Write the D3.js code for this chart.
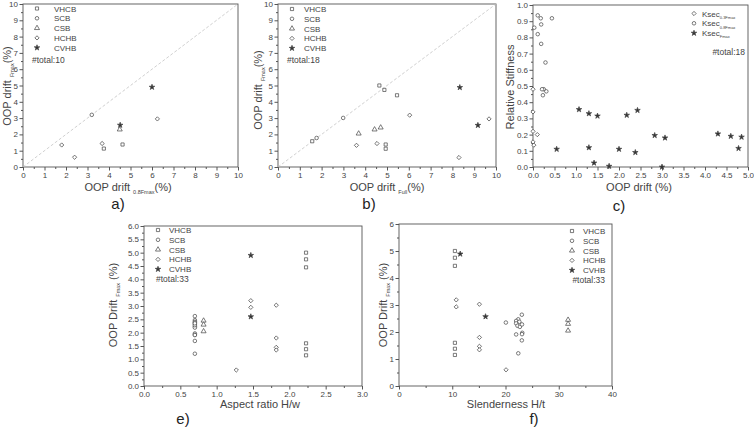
<!DOCTYPE html>
<html>
<head>
<meta charset="utf-8">
<script src="https://cdn.jsdelivr.net/npm/d3@7"></script>
<style>
  body { margin: 0; background: #fff; }
  text { font-family: Arial, "Liberation Sans", sans-serif; }
</style>
</head>
<body>
<svg id="chart" width="754" height="430"></svg>
<script>
/* ========================= DATA ======================== */
/* ======================================================= */

const seriesNames = ["VHCB", "SCB", "CSB", "HCHB", "CVHB"];
const stiffNames = ["0.3Fmax", "0.8Fmax", "Fmax"];

// a) OOP drift 0.8Fmax vs OOP drift Fmax
const aVHCB = [[3.76, 1.13], [4.63, 1.38]];
const aSCB  = [[3.2, 3.2]];
const aCSB  = [[4.5, 2.3]];
const aHCHB = [[1.8, 1.35], [2.4, 0.6], [3.68, 1.44], [6.25, 2.95]];
const aCVHB = [[4.52, 2.57], [6.0, 4.9]];

// b) OOP drift Full vs OOP drift Fmax
const bVHCB = [[1.57, 1.58], [4.65, 5.0], [4.88, 4.73], [5.46, 4.4], [4.94, 1.38], [4.94, 1.12]];
const bSCB  = [[1.77, 1.78], [2.99, 3.01]];
const bCSB  = [[3.7, 2.05], [4.43, 2.3], [4.71, 2.42]];
const bHCHB = [[3.6, 1.33], [4.54, 1.44], [6.04, 3.18], [8.3, 0.58], [9.68, 2.95]];
const bCVHB = [[8.34, 4.88], [9.17, 2.56]];

// c) relative stiffness vs OOP drift
const cK03 = [[0.0, 0.48], [0.0, 0.34], [0.0, 0.22], [0.1, 0.2], [0.0, 0.155], [0.02, 0.135]];
const cK08 = [[0.11, 0.936], [0.18, 0.918], [0.44, 0.918], [0.03, 0.86], [0.19, 0.88], [0.11, 0.82],
              [0.19, 0.76], [0.29, 0.645], [0.25, 0.48], [0.31, 0.467], [0.23, 0.443], [0.21, 0.48]];
const cKF   = [[0.55, 0.11], [1.07, 0.355], [1.3, 0.33], [1.3, 0.12], [1.42, 0.025], [1.5, 0.315],
              [1.77, 0.005], [2.0, 0.11], [2.18, 0.32], [2.38, 0.09], [2.43, 0.35], [2.83, 0.195],
              [3.0, 0.0], [3.07, 0.18], [4.3, 0.205], [4.6, 0.19], [4.78, 0.115], [4.85, 0.185]];

// e) aspect ratio vs OOP drift Fmax
const eVHCB = [[2.23, 5.0], [2.23, 4.75], [2.23, 4.45], [2.23, 1.6], [2.23, 1.38], [2.23, 1.15]];
const eSCB  = [[0.7, 2.62], [0.7, 2.47], [0.7, 2.41], [0.7, 2.38], [0.7, 2.32], [0.7, 2.23], [0.7, 2.19],
               [0.7, 2.28], [0.7, 1.97], [0.7, 1.92], [0.7, 1.91], [0.7, 1.69], [0.7, 1.21], [0.7, 2.35]];
const eCSB  = [[0.82, 2.45], [0.82, 2.3], [0.82, 2.05]];
const eHCHB = [[1.47, 3.2], [1.47, 2.95], [1.82, 3.03], [1.82, 1.8], [1.82, 1.45], [1.82, 1.35], [1.27, 0.6]];
const eCVHB = [[1.47, 4.9], [1.47, 2.6]];

// f) slenderness vs OOP drift Fmax
const fVHCB = [[10.5, 5.0], [10.5, 4.75], [10.5, 4.45], [10.5, 1.6], [10.5, 1.38], [10.5, 1.15]];
const fSCB  = [[23.07, 2.64], [22.4, 2.47], [22.0, 2.41], [22.6, 2.38], [22.0, 2.32], [22.25, 2.23],
               [22.7, 2.19], [23.1, 2.28], [23.15, 1.97], [23.1, 1.92], [22.0, 1.91], [23.07, 1.69],
               [22.4, 1.21], [20.07, 2.35]];
const fCSB  = [[31.75, 2.45], [31.75, 2.3], [31.75, 2.05]];
const fHCHB = [[10.75, 3.19], [10.75, 2.93], [15.1, 3.03], [15.1, 1.8], [15.1, 1.47], [15.1, 1.34], [20.1, 0.6]];
const fCVHB = [[11.5, 4.89], [16.25, 2.57]];

const totals = { a: 10, b: 18, c: 18, e: 33, f: 33 };

/* ======================= HELPERS ======================= */
/* ======================================================= */

const svg = d3.select("#chart");
const INK = "#444";

function translate(x, y) { return "translate(" + x + "," + y + ")"; }

const symbolDefs = {
    square:   { path: d3.symbol(d3.symbolSquare, 10)(),   rot: 0,  fill: "#fff" },
    circle:   { path: d3.symbol(d3.symbolCircle, 10)(),   rot: 0,  fill: "#fff" },
    triangle: { path: d3.symbol(d3.symbolTriangle, 11)(), rot: 0,  fill: "#fff" },
    diamond:  { path: d3.symbol(d3.symbolSquare, 9)(),    rot: 45, fill: "#fff" },
    star:     { path: d3.symbol(d3.symbolStar, 9.5)(),    rot: 0,  fill: "#333" }
};
const seriesSymbols = ["square", "circle", "triangle", "diamond", "star"];

function drawSymbol(g, type, px, py) {
    let s = symbolDefs[type];
    g.append("path")
     .attr("d", s.path)
     .attr("transform", translate(px, py) + (s.rot ? " rotate(" + s.rot + ")" : ""))
     .attr("fill", s.fill)
     .attr("stroke", "#444")
     .attr("stroke-width", 0.7);
}

// text made of plain and subscript parts
function richText(g, parts, size) {
    let t = g.append("text").attr("font-size", size).attr("fill", INK);
    let down = false;
    parts.forEach(p => {
        let sub = p[1];
        let ts = t.append("tspan").text(p[0]);
        if (sub) ts.attr("font-size", size * 0.5).attr("dy", down ? 0 : size * 0.28);
        else if (down) ts.attr("dy", -size * 0.28);
        down = sub;
    });
    return t;
}

function drawPanel(p) {
    let g = svg.append("g");
    let x = d3.scaleLinear().domain(p.xDomain).range([p.left, p.right]);
    let y = d3.scaleLinear().domain(p.yDomain).range([p.bottom, p.top]);

    let styleAxis = sel => {
        sel.select(".domain").remove();
        sel.selectAll("line").attr("stroke", "#555");
        sel.selectAll("text").attr("fill", INK).attr("font-size", 8)
           .attr("font-family", "Arial, 'Liberation Sans', sans-serif");
    };

    g.append("g").attr("transform", translate(0, p.bottom))
     .call(d3.axisBottom(x).tickValues(p.xMinor).tickSize(2).tickFormat("")).call(styleAxis);
    g.append("g").attr("transform", translate(p.left, 0))
     .call(d3.axisLeft(y).tickValues(p.yMinor).tickSize(2).tickFormat("")).call(styleAxis);
    g.append("g").attr("transform", translate(0, p.bottom))
     .call(d3.axisBottom(x).tickValues(p.xTicks).tickSize(3.5).tickPadding(1.5)
             .tickFormat(d3.format(p.xFmt))).call(styleAxis);
    g.append("g").attr("transform", translate(p.left, 0))
     .call(d3.axisLeft(y).tickValues(p.yTicks).tickSize(3.5).tickPadding(1.5)
             .tickFormat(d3.format(p.yFmt))).call(styleAxis);

    g.append("rect")
     .attr("x", p.left).attr("y", p.top)
     .attr("width", p.right - p.left).attr("height", p.bottom - p.top)
     .attr("fill", "none").attr("stroke", "#555").attr("stroke-width", 0.9);

    if (p.diagonal) {
        g.append("line")
         .attr("x1", x(0)).attr("y1", y(0)).attr("x2", x(10)).attr("y2", y(10))
         .attr("stroke", "#c4c4c4").attr("stroke-width", 0.8).attr("stroke-dasharray", "3,2");
    }

    p.series.forEach((pts, i) => {
        pts.forEach(d => drawSymbol(g, p.symbols[i], x(d[0]), y(d[1])));
    });

    // legend
    let lg = g.append("g");
    p.legend.forEach((lab, i) => {
        let ly = p.legendY + i * 9.8;
        drawSymbol(lg, p.symbols[i], p.legendSymX, ly);
        richText(lg, lab, 8).attr("x", p.legendTextX).attr("y", ly + 3);
    });
    lg.append("text")
      .attr("x", p.totalX).attr("y", p.totalY)
      .attr("text-anchor", p.totalAnchor || "start")
      .attr("font-size", 8.5).attr("fill", INK)
      .text("#total:" + p.total);

    // axis titles
    richText(g, p.xLabel, 11)
        .attr("x", p.xLabelX).attr("y", p.xLabelY).attr("text-anchor", "middle");
    richText(g, p.yLabel, 11)
        .attr("text-anchor", "middle")
        .attr("transform", translate(p.yLabelX, p.yLabelY) + " rotate(-90)");

    g.append("text")
     .attr("x", p.tagX).attr("y", p.tagY)
     .attr("text-anchor", "middle")
     .attr("font-family", "'Liberation Serif', 'Times New Roman', serif")
     .attr("font-size", 15).attr("fill", "#222")
     .text(p.tag);
}

/* ======================== PANELS ======================= */
/* ======================================================= */

const legendSeries = seriesNames.map(n => [[n, false]]);
const legendStiff = stiffNames.map(n => [["Ksec", false], [n, true]]);
const driftFmax = [["OOP drift ", false], ["Fmax", true], ["(%)", false]];
const driftFmaxCap = [["OOP Drift ", false], ["Fmax", true], [" (%)", false]];

drawPanel({
    left: 23, right: 238, top: 4, bottom: 167,
    xDomain: [0, 10], yDomain: [0, 10],
    xTicks: d3.range(0, 11), yTicks: d3.range(0, 11),
    xMinor: d3.range(0.5, 10, 1), yMinor: d3.range(0.5, 10, 1),
    xFmt: "d", yFmt: "d", diagonal: true,
    series: [aVHCB, aSCB, aCSB, aHCHB, aCVHB], symbols: seriesSymbols,
    legend: legendSeries, legendSymX: 37, legendTextX: 54, legendY: 8.5,
    total: totals.a, totalX: 32, totalY: 63,
    xLabel: [["OOP drift ", false], ["0.8Fmax", true], ["(%)", false]],
    xLabelX: 128, xLabelY: 191,
    yLabel: driftFmax, yLabelX: 11, yLabelY: 86,
    tag: "a)", tagX: 118, tagY: 209
});

drawPanel({
    left: 278, right: 496, top: 4, bottom: 167,
    xDomain: [0, 10], yDomain: [0, 10],
    xTicks: d3.range(0, 11), yTicks: d3.range(0, 11),
    xMinor: d3.range(0.5, 10, 1), yMinor: d3.range(0.5, 10, 1),
    xFmt: "d", yFmt: "d", diagonal: true,
    series: [bVHCB, bSCB, bCSB, bHCHB, bCVHB], symbols: seriesSymbols,
    legend: legendSeries, legendSymX: 292, legendTextX: 304, legendY: 9,
    total: totals.b, totalX: 287, totalY: 63,
    xLabel: [["OOP drift ", false], ["Full", true], ["(%)", false]],
    xLabelX: 387, xLabelY: 191,
    yLabel: driftFmax, yLabelX: 262, yLabelY: 90,
    tag: "b)", tagX: 369, tagY: 209
});

drawPanel({
    left: 533, right: 748, top: 5, bottom: 167,
    xDomain: [0, 5], yDomain: [0, 1],
    xTicks: d3.range(0, 5.01, 0.5), yTicks: d3.range(0, 1.01, 0.1),
    xMinor: d3.range(0.25, 5, 0.5), yMinor: d3.range(0.05, 1, 0.1),
    xFmt: ".1f", yFmt: ".1f", diagonal: false,
    series: [cK03, cK08, cKF], symbols: ["diamond", "circle", "star"],
    legend: legendStiff, legendSymX: 694, legendTextX: 702, legendY: 13.5,
    total: totals.c, totalX: 745, totalY: 55, totalAnchor: "end",
    xLabel: [["OOP drift (%)", false]],
    xLabelX: 639, xLabelY: 191,
    yLabel: [["Relative Stiffness", false]], yLabelX: 514, yLabelY: 87,
    tag: "c)", tagX: 619, tagY: 211
});

drawPanel({
    left: 144, right: 362, top: 226, bottom: 386,
    xDomain: [0, 3], yDomain: [0, 6],
    xTicks: d3.range(0, 3.01, 0.5), yTicks: d3.range(0, 6.01, 0.5),
    xMinor: d3.range(0.25, 3, 0.5), yMinor: d3.range(0.25, 6, 0.5),
    xFmt: ".1f", yFmt: ".1f", diagonal: false,
    series: [eVHCB, eSCB, eCSB, eHCHB, eCVHB], symbols: seriesSymbols,
    legend: legendSeries, legendSymX: 158, legendTextX: 169, legendY: 230,
    total: totals.e, totalX: 156, totalY: 282,
    xLabel: [["Aspect ratio H/w", false]],
    xLabelX: 260, xLabelY: 408,
    yLabel: driftFmaxCap, yLabelX: 117, yLabelY: 305,
    tag: "e)", tagX: 183, tagY: 424
});

drawPanel({
    left: 399, right: 612, top: 224, bottom: 386,
    xDomain: [0, 40], yDomain: [0, 6],
    xTicks: d3.range(0, 41, 10), yTicks: d3.range(0, 7),
    xMinor: d3.range(5, 40, 10), yMinor: d3.range(0.5, 6, 1),
    xFmt: "d", yFmt: "d", diagonal: false,
    series: [fVHCB, fSCB, fCSB, fHCHB, fCVHB], symbols: seriesSymbols,
    legend: legendSeries, legendSymX: 572, legendTextX: 583, legendY: 231,
    total: totals.f, totalX: 605, totalY: 283, totalAnchor: "end",
    xLabel: [["Slenderness H/t", false]],
    xLabelX: 506, xLabelY: 408,
    yLabel: driftFmaxCap, yLabelX: 387, yLabelY: 305,
    tag: "f)", tagX: 534, tagY: 424
});
</script>
</body>
</html>
